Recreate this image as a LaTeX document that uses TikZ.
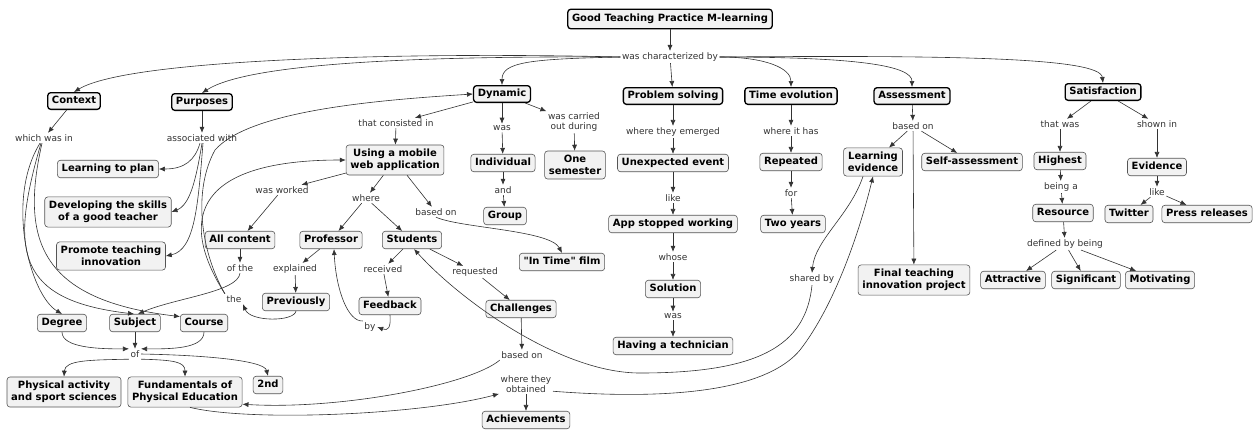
\documentclass[tikz,border=0pt]{standalone}
\usepackage{fontspec}
\setmainfont{DejaVu Sans}[Ligatures=TeXOff]
\usetikzlibrary{arrows.meta}
\definecolor{boxfill}{HTML}{F2F2F2}
\definecolor{boxline}{HTML}{555555}
\definecolor{linkcol}{HTML}{333333}
\begin{document}
\begin{tikzpicture}[x=1pt,y=-1pt,
  cbase/.style={fill=boxfill, rounded corners=3pt, align=center,
    font=\bfseries\fontsize{10}{12}\selectfont, inner xsep=4.2pt},
  concept/.style={cbase, draw=boxline, line width=0.6pt, text height=7.4pt, text depth=2.1pt, inner ysep=4pt},
  concepttwo/.style={cbase, draw=boxline, line width=0.6pt, inner ysep=4.2pt},
  mainc/.style={cbase, draw=black, line width=1.3pt, text height=7.4pt, text depth=2.1pt, inner ysep=3.6pt},
  lab/.style={font=\fontsize{9}{10.6}\selectfont, text=linkcol, inner sep=1.5pt, align=center},
  link/.style={draw=linkcol, line width=0.6pt, -{Latex[length=6pt,width=5pt]}}
]
\fill[white] (0,0) rectangle (1257,432);
\useasboundingbox (0,0) rectangle (1257,432);

% ---- nodes ----
\node[mainc, inner ysep=5pt] (top) at (670,19) {Good Teaching Practice M-learning};
\node[lab] (wcb) at (670,57) {was characterized by};

\node[mainc] (context) at (74,101) {Context};
\node[mainc] (purposes) at (202,102) {Purposes};
\node[mainc] (dynamic) at (502,94) {Dynamic};
\node[mainc] (probsolv) at (673,96) {Problem solving};
\node[mainc] (timeevo) at (791,96) {Time evolution};
\node[mainc] (assess) at (912,96) {Assessment};
\node[mainc] (satis) at (1103,92) {Satisfaction};

\node[lab] (lwwi) at (44,138) {which was in};
\node[lab] (law) at (202,138) {associated with};
\node[concept] (plan) at (108,169) {Learning to plan};
\node[concepttwo] (skills) at (108,212) {Developing the skills\\of a good teacher};
\node[concepttwo] (promote) at (111,256) {Promote teaching\\innovation};
\node[concept] (degree) at (62,323) {Degree};
\node[concept] (subject) at (135,323) {Subject};
\node[concept] (course) at (204,323) {Course};
\node[lab] (lof) at (135,354) {of};
\node[concepttwo] (pass) at (64,392) {Physical activity\\and sport sciences};
\node[concepttwo] (fund) at (185,392) {Fundamentals of\\Physical Education};
\node[concept] (second) at (268,385) {2nd};

\node[lab] (ltci) at (396,123) {that consisted in};
\node[concepttwo] (using) at (395,160) {Using a mobile\\web application};
\node[lab] (lwas1) at (502,128) {was};
\node[concept] (indiv) at (503,163) {Individual};
\node[lab] (land) at (503,190) {and};
\node[concept] (group) at (505,216) {Group};
\node[lab] (lwcod) at (574,122) {was carried\\out during};
\node[concepttwo] (semester) at (575,165) {One\\semester};

\node[lab] (lww) at (282,190) {was worked};
\node[concept] (allc) at (240,240) {All content};
\node[lab] (lofthe) at (240,268) {of the};
\node[lab] (lwhere) at (366,198) {where};
\node[concept] (prof) at (331,240) {Professor};
\node[concept] (stud) at (412,240) {Students};
\node[lab] (lbo1) at (436,212) {based on};
\node[concept] (film) at (562,262) {"In Time" film};
\node[lab] (lexpl) at (295,269) {explained};
\node[concept] (prev) at (296,302) {Previously};
\node[lab] (lthe) at (234,299) {the};
\node[lab] (lrecv) at (383,269) {received};
\node[concept] (feedback) at (390,306) {Feedback};
\node[lab] (lby) at (370,327) {by};
\node[lab] (lreq) at (475,272) {requested};
\node[concept] (chall) at (521,309) {Challenges};
\node[lab] (lbo2) at (522,355) {based on};
\node[lab] (lwto) at (526,384) {where they\\obtained};
\node[concept] (achieve) at (526,420) {Achievements};

\node[lab] (lwte) at (673,132) {where they emerged};
\node[concept] (unexp) at (673,163) {Unexpected event};
\node[lab] (llike1) at (673,198) {like};
\node[concept] (app) at (673,224) {App stopped working};
\node[lab] (lwhose) at (673,257) {whose};
\node[concept] (sol) at (673,289) {Solution};
\node[lab] (lwas2) at (673,316) {was};
\node[concept] (tech) at (673,346) {Having a technician};

\node[lab] (lwih) at (791,131) {where it has};
\node[concept] (repeated) at (791,162) {Repeated};
\node[lab] (lfor) at (791,193) {for};
\node[concept] (twoyears) at (793,224) {Two years};

\node[lab] (lbo3) at (913,126) {based on};
\node[concepttwo] (learnev) at (873,162) {Learning\\evidence};
\node[concept] (selfa) at (972,162) {Self-assessment};
\node[concepttwo] (final) at (914,280) {Final teaching\\innovation project};
\node[lab] (lshared) at (812,279) {shared by};

\node[lab] (ltw) at (1060,124) {that was};
\node[concept] (highest) at (1060,161) {Highest};
\node[lab] (lba) at (1061,187) {being a};
\node[concept] (resource) at (1063,213) {Resource};
\node[lab] (ldbb) at (1065,244) {defined by being};
\node[concept] (attractive) at (1013,280) {Attractive};
\node[concept] (significant) at (1086,280) {Significant};
\node[concept] (motivating) at (1160,280) {Motivating};
\node[lab] (lsi) at (1157,124) {shown in};
\node[concept] (evidence) at (1157,167) {Evidence};
\node[lab] (llike2) at (1157,192) {like};
\node[concept] (twitter) at (1129,214) {Twitter};
\node[concept] (press) at (1207,214) {Press releases};

% ---- links ----
\draw[link] (top) -- (wcb);
\draw[link] (wcb.west) .. controls (420,52) and (130,58) .. (context.north);
\draw[link] (wcb.west) .. controls (430,56) and (250,62) .. (purposes.north);
\draw[link] (wcb.west) .. controls (530,59) and (502,62) .. (dynamic.north);
\draw[link] (wcb) -- (probsolv);
\draw[link] (wcb.east) .. controls (765,57) and (791,68) .. (timeevo.north);
\draw[link] (wcb.east) .. controls (860,57) and (912,66) .. (assess.north);
\draw[link] (wcb.east) .. controls (960,55) and (1100,58) .. (satis.north);

\draw[link] (context) -- ([xshift=4]lwwi.north);
\draw[link] ([xshift=-4]lwwi.south) .. controls (5,200) and (30,295) .. (degree.north);
\draw[link] ([xshift=-3]lwwi.south) .. controls (10,250) and (15,300) .. ([xshift=-1]subject.north);
\draw[link] ([xshift=-2]lwwi.south) .. controls (20,240) and (40,300) .. (course.165);

\draw[link] (purposes) -- (law);
\draw[link] ([xshift=-2]law.south) .. controls (195,160) and (185,169) .. (plan.east);
\draw[link] (law.south) .. controls (196,180) and (190,205) .. (skills.east);
\draw[link] ([xshift=1]law.south) .. controls (198,205) and (195,250) .. (promote.east);

\draw[link] (degree.south) .. controls (62,348) and (100,349) .. (lof.north west);
\draw[link] (subject) -- (lof);
\draw[link] (course.south) .. controls (204,349) and (170,349) .. (lof.north east);
\draw[link] (lof.south west) .. controls (90,360) and (65,360) .. (pass.north);
\draw[link] (lof.south east) .. controls (175,360) and (185,362) .. (fund.north);
\draw[link] (lof.east) .. controls (200,355) and (264,360) .. (second.north);

\draw[link] (dynamic) -- (ltci);
\draw[link] (ltci) -- (using);
\draw[link] (dynamic) -- (lwas1);
\draw[link] (lwas1) -- (indiv);
\draw[link] (indiv) -- (land);
\draw[link] (land) -- (group);
\draw[link] (dynamic) -- (lwcod);
\draw[link] (lwcod) -- (semester);

\draw[link] (using) -- (lww);
\draw[link] (lww) -- (allc);
\draw[link] (allc) -- (lofthe);
\draw[link] (lofthe.south) .. controls (238,292) and (175,298) .. ([xshift=3]subject.north);
\draw[link] (using) -- (lwhere);
\draw[link] (lwhere) -- (prof);
\draw[link] (lwhere) -- (stud);
\draw[link] (using) -- (lbo1);
\draw[link] (lbo1.south) .. controls (460,228) and (550,230) .. (film.north);

\draw[link] (prof) -- (lexpl);
\draw[link] (lexpl) -- (prev);
\draw[link] (prev.south) .. controls (294,322) and (250,322) .. (lthe.south east);
\draw[link] (lthe.north west) .. controls (175,215) and (200,160) .. (using.west);
\draw[link] (lthe.north west) .. controls (200,250) and (193,190) .. (215,150)
  .. controls (250,110) and (380,100) .. (dynamic.west);

\draw[link] (stud) -- (lrecv);
\draw[link] (lrecv) -- (feedback);
\draw[link] (feedback.south) .. controls (391,328) and (388,331) .. (lby.east);
\draw[link] (lby.north west) .. controls (348,322) and (336,290) .. ([xshift=3]prof.south);
\draw[link] (stud) -- (lreq);
\draw[link] (lreq) -- (chall);
\draw[link] (chall) -- (lbo2);
\draw[link] (lbo2.south west) .. controls (470,385) and (340,410) .. (fund.-12);
\draw[link] ([xshift=5]fund.south) .. controls (250,422) and (420,415) .. (lwto.-160);
\draw[link] (lwto) -- (achieve);
\draw[link] (lwto.-15) .. controls (640,398) and (760,398) .. (800,350)
  .. controls (835,305) and (860,230) .. (learnev.south);

\draw[link] (probsolv) -- (lwte);
\draw[link] (lwte) -- (unexp);
\draw[link] (unexp) -- (llike1);
\draw[link] (llike1) -- (app);
\draw[link] (app) -- (lwhose);
\draw[link] (lwhose) -- (sol);
\draw[link] (sol) -- (lwas2);
\draw[link] (lwas2) -- (tech);

\draw[link] (timeevo) -- (lwih);
\draw[link] (lwih) -- (repeated);
\draw[link] (repeated) -- (lfor);
\draw[link] (lfor) -- (twoyears);

\draw[link] (assess) -- (lbo3);
\draw[link] (lbo3) -- (learnev);
\draw[link] (lbo3) -- (selfa);
\draw[link] (lbo3) -- (final);
\draw[link] ([xshift=-10]learnev.south) .. controls (850,215) and (815,240) .. (lshared.north);
\draw[link] (lshared.south) .. controls (806,345) and (760,373) .. (640,373)
  .. controls (560,373) and (460,300) .. ([xshift=2]stud.south);

\draw[link] (satis) -- (ltw);
\draw[link] (ltw) -- (highest);
\draw[link] (highest) -- (lba);
\draw[link] (lba) -- (resource);
\draw[link] (resource) -- (ldbb);
\draw[link] (ldbb) -- (attractive);
\draw[link] (ldbb) -- (significant);
\draw[link] (ldbb) -- (motivating);
\draw[link] (satis) -- (lsi);
\draw[link] (lsi) -- (evidence);
\draw[link] (evidence) -- (llike2);
\draw[link] (llike2) -- (twitter);
\draw[link] (llike2) -- (press);
\end{tikzpicture}
\end{document}
